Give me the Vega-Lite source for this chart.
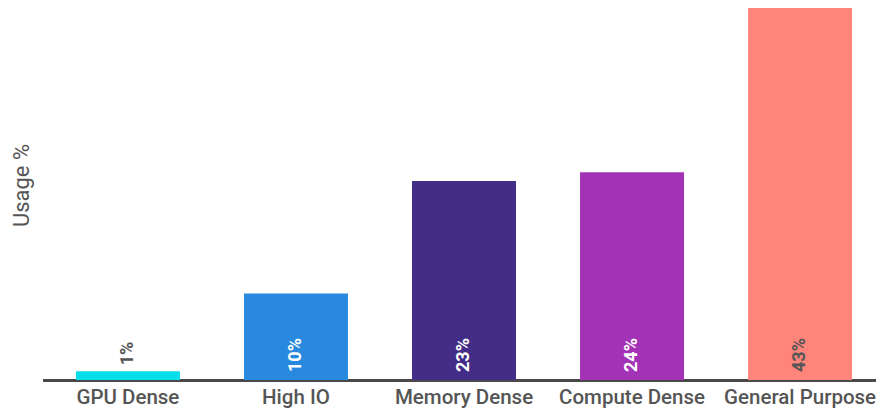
{
  "$schema": "https://vega.github.io/schema/vega-lite/v6.json",
  "width": 840,
  "height": 372,
  "autosize": "none",
  "padding": {"left": 44, "top": 8, "right": 0, "bottom": 31},
  "background": "white",
  "config": {
    "view": {"stroke": null},
    "font": "Roboto"
  },
  "data": {
    "values": [
      {"category": "GPU Dense", "usage": 1},
      {"category": "High IO", "usage": 10},
      {"category": "Memory Dense", "usage": 23},
      {"category": "Compute Dense", "usage": 24},
      {"category": "General Purpose", "usage": 43}
    ]
  },
  "transform": [{"calculate": "datum.usage + '%'", "as": "label"}],
  "encoding": {
    "x": {
      "field": "category",
      "type": "nominal",
      "sort": null,
      "scale": {"paddingInner": 0.381, "paddingOuter": 0.19},
      "axis": {
        "title": null,
        "labelAngle": 0,
        "labelFont": "Roboto",
        "labelFontSize": 20.5,
        "labelFontWeight": 500,
        "labelColor": "#555555",
        "labelPadding": 7,
        "ticks": false,
        "domainColor": "#4a4a4a",
        "domainWidth": 3,
        "domainCap": "square"
      }
    }
  },
  "layer": [
    {
      "mark": {"type": "bar"},
      "encoding": {
        "y": {
          "field": "usage",
          "type": "quantitative",
          "scale": {"domain": [0, 43], "nice": false},
          "axis": {
            "title": "Usage %",
            "titleFont": "Roboto",
            "titleFontSize": 22,
            "titleFontWeight": "normal",
            "titleColor": "#555555",
            "titleAngle": -90,
            "titleAlign": "center",
            "titleBaseline": "middle",
            "titleX": -23,
            "titleY": 177,
            "labels": false,
            "ticks": false,
            "domain": false,
            "grid": false
          }
        },
        "color": {
          "field": "category",
          "type": "nominal",
          "sort": null,
          "legend": null,
          "scale": {
            "domain": ["GPU Dense", "High IO", "Memory Dense", "Compute Dense", "General Purpose"],
            "range": ["#08DDEA", "#2889DF", "#432D87", "#A432B6", "#FF847A"]
          }
        }
      }
    },
    {
      "transform": [{"filter": "datum.usage >= 5"}],
      "mark": {
        "type": "text",
        "angle": 270,
        "align": "left",
        "baseline": "middle",
        "dx": 8,
        "font": "Roboto",
        "fontSize": 18,
        "fontWeight": "bold"
      },
      "encoding": {
        "y": {"datum": 0, "type": "quantitative"},
        "text": {"field": "label", "type": "nominal"},
        "color": {
          "condition": {"test": "datum.category === 'General Purpose'", "value": "#555555"},
          "value": "#ffffff"
        }
      }
    },
    {
      "transform": [{"filter": "datum.usage < 5"}],
      "mark": {
        "type": "text",
        "angle": 270,
        "align": "left",
        "baseline": "middle",
        "dx": 6,
        "font": "Roboto",
        "fontSize": 18,
        "fontWeight": "bold",
        "color": "#555555"
      },
      "encoding": {
        "y": {"field": "usage", "type": "quantitative"},
        "text": {"field": "label", "type": "nominal"}
      }
    }
  ]
}
